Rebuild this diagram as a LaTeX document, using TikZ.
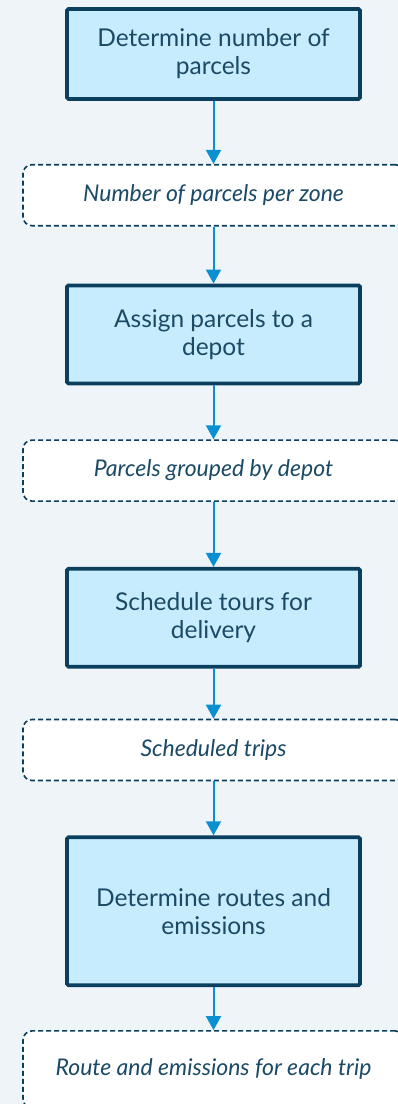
\documentclass[tikz,border=0pt]{standalone}
\usepackage{fontspec}
\setmainfont{Lato}
\usepackage{xcolor}
\definecolor{navy}{HTML}{0B3F5E}
\definecolor{procfill}{HTML}{C6ECFD}
\definecolor{flowblue}{HTML}{0A90D0}
\definecolor{pagebg}{HTML}{EFF4F9}
\definecolor{txt}{HTML}{1B4A66}
\usetikzlibrary{positioning,arrows.meta}
\tikzset{
  procbox/.style={rectangle, rounded corners=1.5pt, draw=navy, line width=3.8pt, fill=procfill,
                  text=txt, align=center, minimum width=293pt, minimum height=98pt,
                  font=\fontsize{24.5}{28}\selectfont},
  databox/.style={rectangle, rounded corners=9pt, draw=navy, line width=1.6pt,
                  dash pattern=on 5pt off 3pt, fill=white, text=txt, align=center,
                  minimum width=381pt, minimum height=61pt, font=\fontsize{23}{26}\selectfont\itshape},
  arr/.style    ={-{Triangle[length=14pt,width=15pt]}, line width=2pt, draw=flowblue},
}

\begin{document}
\begin{tikzpicture}[x=1pt,y=1pt]
  \clip (0,0) rectangle (398,-1104);
  \fill[pagebg] (0,0) rectangle (398,-1104);
  \node[procbox, minimum height=90pt] (count) at (213.5,-54) {Determine number of\\parcels};
  \node[databox, below=63pt of count] (perzone) {Number of parcels per zone};
  \node[procbox, below=57pt of perzone] (assign) {Assign parcels to a\\depot};
  \node[databox, below=54pt of assign] (bydepot) {Parcels grouped by depot};
  \node[procbox, below=65pt of bydepot] (tours) {Schedule tours for\\delivery};
  \node[databox, below=50pt of tours] (trips) {Scheduled trips};
  \node[procbox, minimum height=148pt, below=54pt of trips] (routes) {Determine routes and\\emissions};
  \node[databox, minimum height=77pt, below=43pt of routes] (result) {Route and emissions for each trip};
  \draw[arr] (count) -- (perzone);
  \draw[arr] (perzone) -- (assign);
  \draw[arr] (assign) -- (bydepot);
  \draw[arr] (bydepot) -- (tours);
  \draw[arr] (tours) -- (trips);
  \draw[arr] (trips) -- (routes);
  \draw[arr] (routes) -- (result);
\end{tikzpicture}
\end{document}
